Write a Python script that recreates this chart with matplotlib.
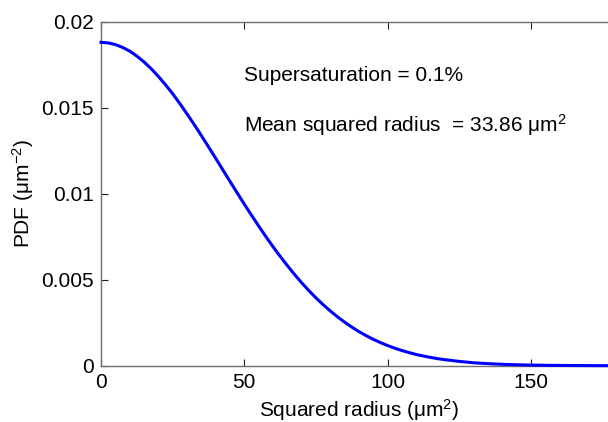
import matplotlib
matplotlib.use("Agg")
import matplotlib.pyplot as plt

plt.rcParams['font.family'] = ['Liberation Sans', 'DejaVu Sans']
plt.rcParams['mathtext.fontset'] = 'custom'
plt.rcParams['mathtext.rm'] = 'Liberation Sans'
plt.rcParams['mathtext.it'] = 'Liberation Sans'

# values
sq_radius = [0, 2.5, 5, 7.5, 10, 12.5, 15, 17.5, 20, 22.5, 25, 27.5, 30, 32.5, 35, 37.5,
             40, 42.5, 45, 47.5, 50, 52.5, 55, 57.5, 60, 62.5, 65, 67.5, 70, 72.5, 75,
             77.5, 80, 82.5, 85, 87.5, 90, 92.5, 95, 97.5, 100, 102.5, 105, 107.5, 110,
             112.5, 115, 117.5, 120, 125, 130, 135, 140, 145, 150, 155, 160, 165,
             170, 175, 180]
pdf = [0.01880, 0.018767, 0.01867, 0.018509, 0.01829, 0.018002, 0.01766, 0.017268,
       0.01682, 0.016335, 0.01581, 0.015240, 0.01464, 0.014022, 0.01338, 0.012723,
       0.01206, 0.011386, 0.01071, 0.010049, 0.00939, 0.008747, 0.00812, 0.007508,
       0.00692, 0.006357, 0.00582, 0.005308, 0.00482, 0.004369, 0.00394, 0.003547,
       0.00318, 0.002841, 0.00253, 0.002244, 0.00198, 0.001748, 0.00153, 0.001343,
       0.00117, 0.001017, 0.00088, 0.00076, 0.00065, 0.00056, 0.00048, 0.000407,
       0.00035, 0.00025, 0.00017, 0.00012, 0.00008, 0.000055, 0.000036, 0.000024,
       0.000016, 0.00001, 0.000006, 0.000004, 0.000002]
xticks = [0, 50, 100, 150]
yticks = [0, 0.005, 0.01, 0.015, 0.02]
yticklabels = ['0', '0.005', '0.01', '0.015', '0.02']
annot1 = 'Supersaturation = 0.1%'
annot2 = 'Mean squared radius  = 33.86 μm$^2$'

FS = 15
fig = plt.figure(figsize=(6.08, 4.22), dpi=100)
ax = fig.add_axes([0.1661, 0.1334, 0.8487, 0.8152])
ax.plot(sq_radius, pdf, color=(0, 0, 1), lw=2.2, clip_on=False, zorder=3,
        solid_joinstyle='round')
ax.set_xlim(0, 180)
ax.set_ylim(0, 0.02)
ax.set_xticks(xticks)
ax.set_xticklabels([str(t) for t in xticks])
ax.set_yticks(yticks)
ax.set_yticklabels(yticklabels)
for s in ax.spines.values():
    s.set_color('#6e6e6e')
    s.set_linewidth(1.0)
ax.tick_params(direction='in', length=5, width=0.8, color='#222222',
               labelsize=FS, top=True, right=True, pad=5)
ax.set_xlabel('Squared radius (μm$^2$)', fontsize=FS, labelpad=4)
ax.set_ylabel('PDF (μm$^{-2}$)', fontsize=FS, labelpad=4)
ax.text(50, 0.0169, annot1, fontsize=FS, va='center', ha='left')
ax.text(50, 0.0140, annot2, fontsize=FS, va='center', ha='left')
fig.savefig('out.png', dpi=100)
